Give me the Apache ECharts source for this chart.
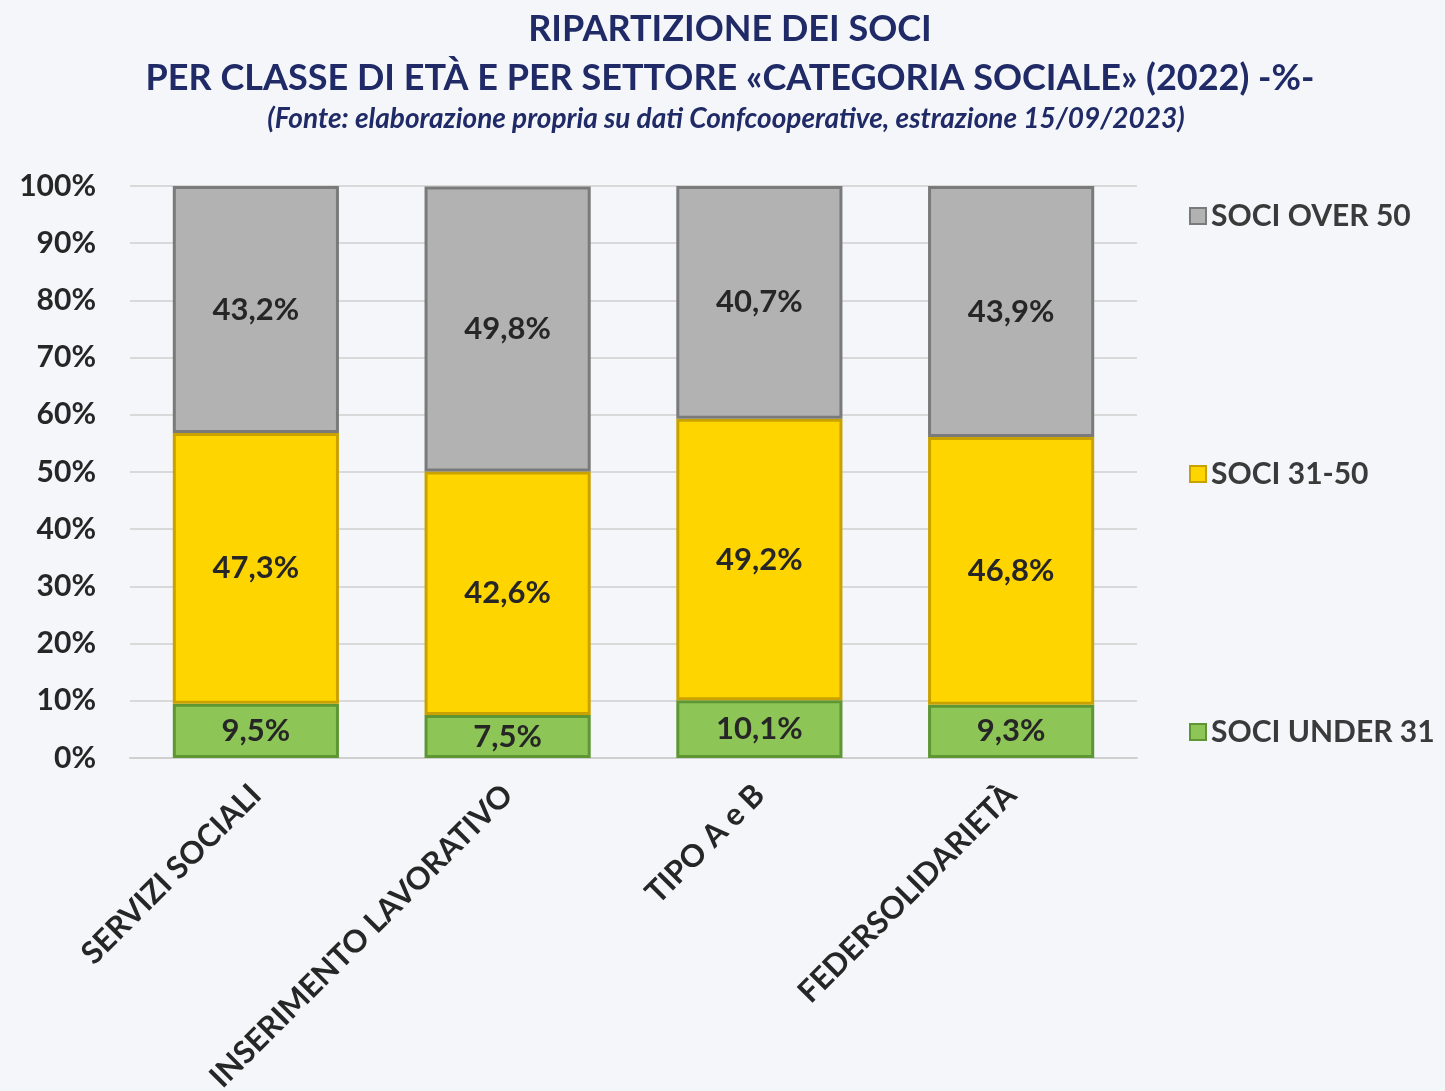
<!DOCTYPE html>
<html>
<head>
<meta charset="utf-8">
<script src="https://cdn.jsdelivr.net/npm/echarts@6/dist/echarts.min.js"></script>
<style>
  html, body { margin: 0; padding: 0; background: #f4f6f9; }
  #main { width: 1445px; height: 1091px; }
</style>
</head>
<body>
<div id="main"></div>
<script>
// categorie (settori)
var categories = ['SERVIZI SOCIALI', 'INSERIMENTO LAVORATIVO', 'TIPO A e B', 'FEDERSOLIDARIETÀ'];
// valori in % per classe di età
var under31 = [9.5, 7.5, 10.1, 9.3];
var soci3150 = [47.3, 42.6, 49.2, 46.8];
var over50 = [43.2, 49.8, 40.7, 43.9];

var FONT = 'Lato, "Open Sans", sans-serif';

function lbl(p) {
    return p.value.toFixed(1).replace('.', ',') + '%';
}

function makeSeries(name, data, fill, border) {
    return {
        name: name,
        type: 'bar',
        stack: 'tot',
        barWidth: '66%',
        data: data,
        itemStyle: {
            color: fill,
            borderColor: border,
            borderWidth: 3
        },
        label: {
            show: true,
            position: 'inside',
            formatter: lbl,
            fontFamily: FONT,
            fontWeight: 'bold',
            fontSize: 31,
            color: '#262626'
        }
    };
}

var chart = echarts.init(document.getElementById('main'));

var option = {
    backgroundColor: '#f4f6f9',
    animation: false,
    title: [
        {
            text: 'RIPARTIZIONE DEI SOCI',
            left: 725, textAlign: 'center', top: 6,
            textStyle: { fontFamily: FONT, fontWeight: 'bold', fontSize: 36, color: '#1f2a66' }
        },
        {
            text: 'PER CLASSE DI ETÀ E PER SETTORE «CATEGORIA SOCIALE» (2022) -%-',
            left: 725, textAlign: 'center', top: 55,
            textStyle: { fontFamily: FONT, fontWeight: 'bold', fontSize: 36, color: '#1f2a66' }
        },
        {
            text: '(Fonte: elaborazione propria su dati Confcooperative, estrazione 15/09/2023)',
            left: 721, textAlign: 'center', top: 100,
            textStyle: { fontFamily: FONT, fontWeight: 'bold', fontStyle: 'italic', fontSize: 28, color: '#1f2a66' }
        }
    ],
    legend: {
        orient: 'vertical',
        left: 1184,
        top: 196,
        icon: 'rect',
        itemWidth: 16,
        itemHeight: 16,
        itemGap: 228,
        data: ['SOCI OVER 50', 'SOCI 31-50', 'SOCI UNDER 31'],
        textStyle: { fontFamily: FONT, fontWeight: 'bold', fontSize: 30, color: '#3a3a3a' }
    },
    grid: { left: 130, right: 308, top: 186, bottom: 333, outerBoundsMode: 'none' },
    xAxis: {
        type: 'category',
        data: categories,
        axisTick: { show: false },
        axisLine: { lineStyle: { color: '#d0d0d0', width: 2 } },
        axisLabel: {
            rotate: 45,
            margin: 32,
            fontFamily: FONT,
            fontWeight: 'bold',
            fontSize: 31,
            color: '#262626'
        }
    },
    yAxis: {
        type: 'value',
        min: 0,
        max: 100,
        interval: 10,
        axisLine: { show: false },
        axisTick: { show: false },
        splitLine: { lineStyle: { color: '#d9d9d9', width: 2 } },
        axisLabel: {
            formatter: '{value}%',
            margin: 34,
            fontFamily: FONT,
            fontWeight: 'bold',
            fontSize: 30,
            color: '#262626'
        }
    },
    series: [
        makeSeries('SOCI UNDER 31', under31, '#8dc556', '#5e9634'),
        makeSeries('SOCI 31-50', soci3150, '#ffd500', '#c9a200'),
        makeSeries('SOCI OVER 50', over50, '#b2b2b2', '#7a7a7a')
    ]
};

chart.setOption(option);
</script>
</body>
</html>
